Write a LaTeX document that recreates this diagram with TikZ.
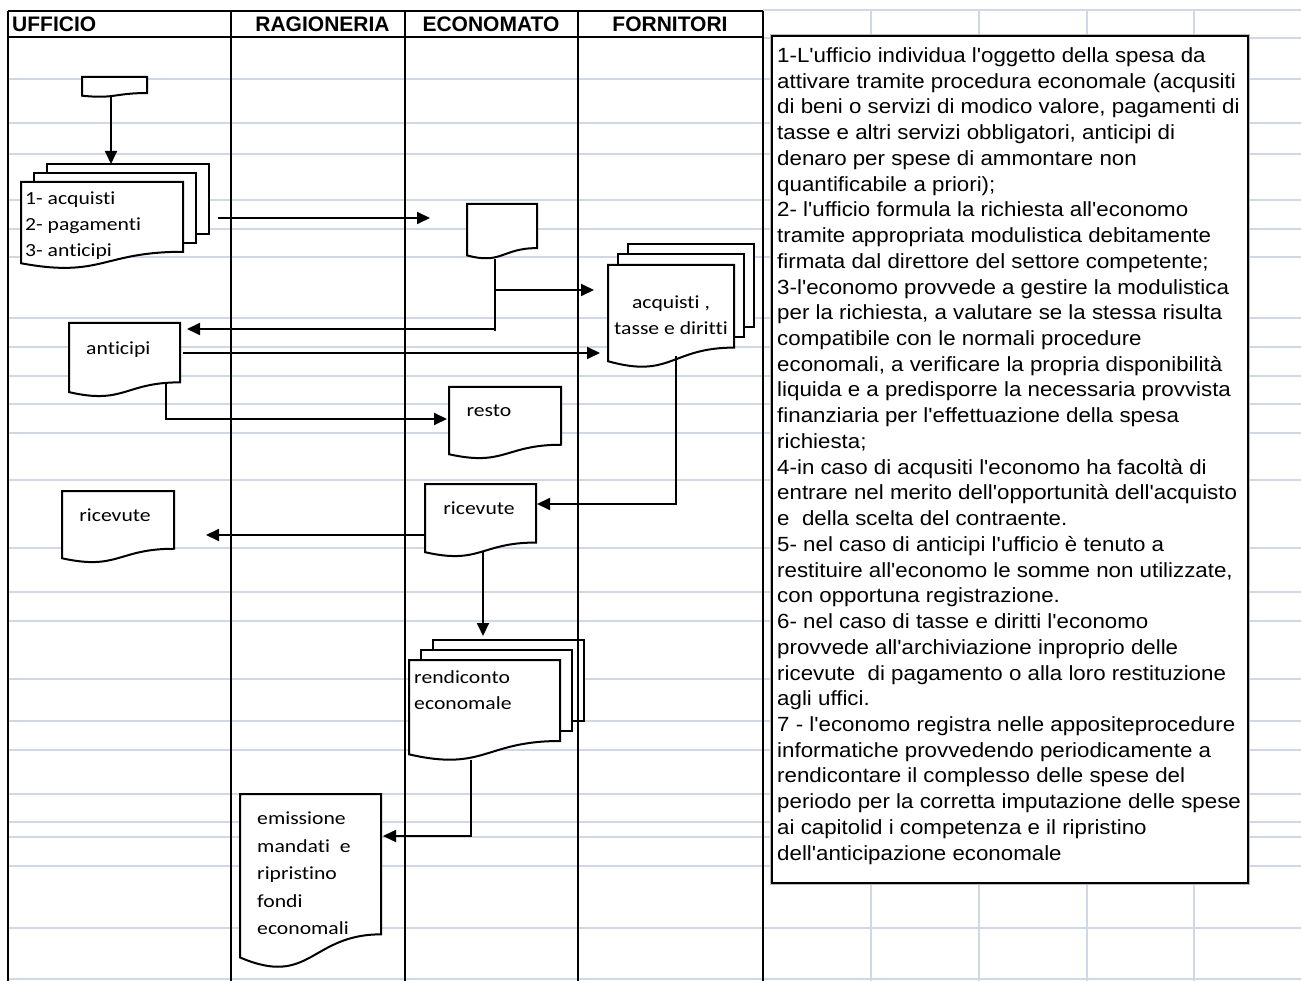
\documentclass[tikz,border=0pt]{standalone}
\usepackage{fontspec}
\setmainfont[Ligatures={TeXOff,CommonOff}]{Liberation Sans}
\newfontfamily\carl[Ligatures={TeXOff,CommonOff}]{Carlito}
\usetikzlibrary{arrows.meta,calc}
\definecolor{gridc}{RGB}{208,215,229}

\newcommand{\docoutline}[1]{%
  \draw[docline] (#1.north west) -- (#1.north east) -- ($(#1.north east)!0.802!(#1.south east)$)
    .. controls ($(#1.north)!0.802!(#1.south)$) and ($(#1.north)!1.107!(#1.south)$) ..
    ($(#1.north west)!0.934!(#1.south west)$) -- cycle;}
% simple document: name x0 y0 w h
\newcommand{\sdoc}[5]{%
  \node[docnode, minimum width=#4pt, minimum height=#5pt] (#1) at ({#2+#4/2},{#3+#5/2}) {};
  \docoutline{#1}}
% multi document: name x0 y0 w h dx dy
\newcommand{\mdoc}[7]{%
  \foreach \k in {2,1}{%
    \fill[white] ({#2+\k*#6},{#3-\k*#7}) rectangle ({#2+#4+\k*#6},{#3+0.802*#5-\k*#7});
    \draw[pageline] ({#2+\k*#6},{#3-(\k-1)*#7}) -- ({#2+\k*#6},{#3-\k*#7}) -- ({#2+#4+\k*#6},{#3-\k*#7})
      -- ({#2+#4+\k*#6},{#3+0.802*#5-\k*#7}) -- ({#2+#4+(\k-1)*#6},{#3+0.802*#5-\k*#7});
  }
  \sdoc{#1}{#2}{#3}{#4}{#5}}

\begin{document}
\begin{tikzpicture}[x=1pt,y=-1pt,
  gridl/.style={draw=gridc,line width=1.6pt},
  tabl/.style={draw=black,line width=2pt},
  docline/.style={draw=black,fill=white,line width=2pt,line join=miter},
  pageline/.style={draw=black,line width=2pt,line join=miter},
  docnode/.style={rectangle,draw=none,inner sep=0pt,outer sep=0pt},
  conn/.style={draw=black,line width=1.8pt},
  arr/.style={conn,-{Triangle[length=13pt,width=12pt]}},
  lbl/.style={font=\carl\fontsize{18.5}{22}\selectfont,inner sep=0pt,xscale=1.17},
  hdr/.style={font=\bfseries\fontsize{21}{25}\selectfont,inner sep=0pt,anchor=base},
  boxt/.style={font=\fontsize{20.5}{24}\selectfont,inner sep=0pt,anchor=base west,xscale=1.088}
]
\useasboundingbox (0,0) rectangle (1301,981);
\fill[white] (0,0) rectangle (1301,981);

% spreadsheet gridlines
\foreach \yy in {79,123,154,200,229,257,318,347,376,404,433,480,548,592,621,679,721,750,794,822,837,866,928,979}
  \draw[gridl] (8,\yy) -- (1301,\yy);
\draw[gridl] (763,10) -- (1301,10);
\draw[gridl] (763,38) -- (1301,38);
\foreach \xx in {871,979,1087,1194}
  \draw[gridl] (\xx,10) -- (\xx,981);

% notes box
\draw[gray!55,line width=4.5pt] (772,36) rectangle (1248,883);
\node[draw=black,fill=white,line width=2pt,minimum width=476pt,minimum height=847pt,inner sep=0pt] (notes) at (1010,459.5) {};
\foreach \t [count=\i] in {%
{1-L'ufficio individua l'oggetto della spesa da},
{attivare tramite procedura economale (acqusiti},
{di beni o servizi di modico valore, pagamenti di},
{tasse e altri servizi obbligatori, anticipi di},
{denaro per spese di ammontare non},
{quantificabile a priori);},
{2- l'ufficio formula la richiesta all'economo},
{tramite appropriata modulistica debitamente},
{firmata dal direttore del settore competente;},
{3-l'economo provvede a gestire la modulistica},
{per la richiesta, a valutare se la stessa risulta},
{compatibile con le normali procedure},
{economali, a verificare la propria disponibilità},
{liquida e a predisporre la necessaria provvista},
{finanziaria per l'effettuazione della spesa},
{richiesta;},
{4-in caso di acqusiti l'economo ha facoltà di},
{entrare nel merito dell'opportunità dell'acquisto},
{e\ \ della scelta del contraente.},
{5- nel caso di anticipi l'ufficio è tenuto a},
{restituire all'economo le somme non utilizzate,},
{con opportuna registrazione.},
{6- nel caso di tasse e diritti l'economo},
{provvede all'archiviazione inproprio delle},
{ricevute\ \ di pagamento o alla loro restituzione},
{agli uffici.},
{7 - l'economo registra nelle appositeprocedure},
{informatiche provvedendo periodicamente a},
{rendicontare il complesso delle spese del},
{periodo per la corretta imputazione delle spese},
{ai capitolid i competenza e il ripristino},
{dell'anticipazione economale}}
  \node[boxt] (l\i) at (777,{62.5+(\i-1)*25.73}) {\t};

% documents
\sdoc{topdoc}{82}{77}{65}{20}
\mdoc{m1}{21}{182}{162}{87}{13}{9}
\sdoc{econdoc}{467}{204}{70}{55}
\mdoc{m2}{608}{265}{126}{103}{10}{10.5}
\sdoc{antdoc}{69}{323}{111}{74}
\sdoc{resto}{449}{387}{112}{72}
\sdoc{ricE}{425}{484}{111}{73}
\sdoc{ricU}{62}{491}{112}{72}
\mdoc{m3}{409}{660}{151}{101}{12}{10}
\sdoc{emis}{240}{794}{141}{175}

% table (swimlanes)
\draw[tabl] (7.5,11) -- (763,11);
\draw[tabl] (7.5,37) -- (763,37);
\foreach \xx in {7.5,231,405,578,763}
  \draw[tabl] (\xx,11) -- (\xx,981);

% headers
\node[hdr,anchor=base west] (hU) at (12,31.5) {UFFICIO};
\node[hdr] (hR) at (322.5,31.5) {RAGIONERIA};
\node[hdr] (hE) at (491,31.5) {ECONOMATO};
\node[hdr] (hF) at (670,31.5) {FORNITORI};

% labels
\node[lbl,anchor=base west] (t1) at (25,205) {1- acquisti};
\node[lbl,anchor=base west] (t2) at (25,231) {2- pagamenti};
\node[lbl,anchor=base west] (t3) at (25,257) {3- anticipi};
\node[lbl,anchor=base] (t4) at (671,309) {acquisti ,};
\node[lbl,anchor=base] (t5) at (671,335) {tasse e diritti};
\node[lbl,anchor=base west] (t6) at (86,355) {anticipi};
\node[lbl,anchor=base] (t7) at (489,416) {resto};
\node[lbl,anchor=base] (t8) at (479,514) {ricevute};
\node[lbl,anchor=base] (t9) at (115,521) {ricevute};
\node[lbl,anchor=base west] (t10) at (414,683) {rendiconto};
\node[lbl,anchor=base west] (t11) at (414,709) {economale};
\node[lbl,anchor=base west] (t12) at (257,824) {emissione};
\node[lbl,anchor=base west] (t13) at (257,852) {mandati\ \ e};
\node[lbl,anchor=base west] (t14) at (257,879) {ripristino};
\node[lbl,anchor=base west] (t15) at (257,907) {fondi};
\node[lbl,anchor=base west] (t16) at (257,934) {economali};

% connectors
\coordinate (a1e) at (111,164);
\draw[arr] (topdoc.south -| a1e) -- (a1e);
\coordinate (a2s) at (218,218);
\coordinate (a2e) at (430,218);
\draw[arr] (a2s) -- (a2e);
\coordinate (b1) at (495,290);
\coordinate (b2) at (495,329);
\coordinate (b3) at (495,331);
\coordinate (b1e) at (594,290);
\coordinate (b2e) at (187,329);
\draw[conn] (econdoc.south -| b1) -- (b3);
\draw[arr] (b1) -- (b1e);
\draw[arr] (b2) -- (b2e);
\coordinate (c1s) at (183,353);
\coordinate (c1e) at (600,353);
\draw[arr] (c1s) -- (c1e);
\coordinate (d0) at (166,383);
\coordinate (d1) at (166,419);
\coordinate (d2) at (447,419);
\draw[arr] (d0) -- (d1) -- (d2);
\coordinate (e0) at (676,356);
\coordinate (e1) at (676,504);
\coordinate (e2) at (537,504);
\draw[arr] (e0) -- (e1) -- (e2);
\coordinate (f1) at (206,535);
\draw[arr] (ricE.west |- f1) -- (f1);
\coordinate (g0) at (483,551);
\coordinate (g1) at (483,636);
\draw[arr] (g0) -- (g1);
\coordinate (h0) at (471,760);
\coordinate (h1) at (471,836);
\coordinate (h2) at (383,836);
\draw[arr] (h0) -- (h1) -- (h2);
\end{tikzpicture}
\end{document}
